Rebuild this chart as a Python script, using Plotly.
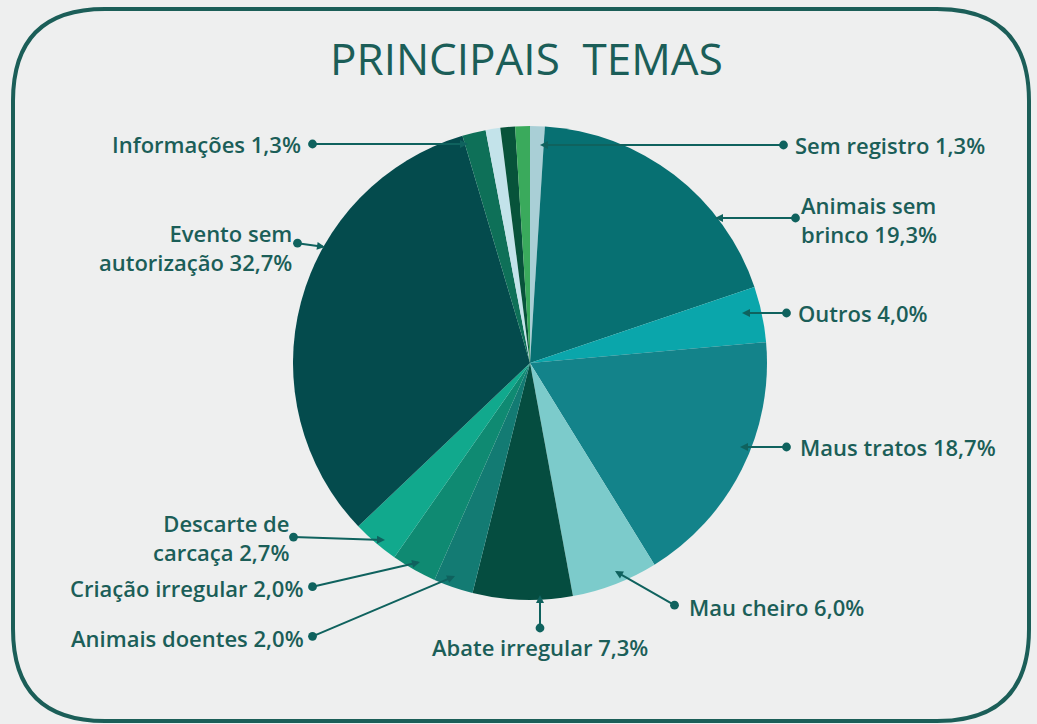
import plotly.graph_objects as go

# ---- data (slice sizes as drawn in the picture; labels as printed) ----
categories = ["Sem registro", "Animais sem brinco", "Outros", "Maus tratos", "Mau cheiro",
              "Abate irregular", "Animais doentes", "Criação irregular", "Descarte de carcaça",
              "Evento sem autorização", "Informações", "Outro A", "Outro B", "Outro C"]
values = [1.0, 18.8, 3.8, 17.6, 5.9, 6.8, 2.7, 3.1, 3.2, 32.5, 1.6, 1.0, 1.0, 1.0]
colors = ["#a9cfd6", "#077072", "#0aa6ab", "#13838a", "#7ccbcb", "#054d40", "#137b73",
          "#0f8a72", "#11a98d", "#044b4d", "#0e7058", "#c3e3ea", "#07533a", "#3aaa5c"]
label_texts = ["Sem registro 1,3%", "Animais sem<br>brinco 19,3%", "Outros 4,0%",
               "Maus tratos 18,7%", "Mau cheiro 6,0%", "Abate irregular 7,3%",
               "Animais doentes 2,0%", "Criação irregular 2,0%", "Descarte de<br>carcaça 2,7%",
               "Evento sem<br>autorização 32,7%", "Informações 1,3%"]

W, H = 1037, 724
TEAL = "#1b5e58"
LINE = "#0f625e"
FONT = "Open Sans"

fig = go.Figure()
fig.add_trace(go.Pie(
    labels=categories, values=values, sort=False, direction="clockwise", rotation=0,
    marker=dict(colors=colors, line=dict(width=0)), textinfo="none", hoverinfo="label",
    domain=dict(x=[(530 - 237) / W, (530 + 237) / W], y=[(H - 363 - 237) / H, (H - 363 + 237) / H]),
    showlegend=False,
))
# invisible pixel-coordinate axes for layout of labels
fig.add_trace(go.Scatter(x=[0, W], y=[0, H], mode="markers", marker=dict(opacity=0),
                         hoverinfo="skip", showlegend=False))

# label layout: (tip_x, tip_y, dot_x, dot_y, text_x, text_y, xanchor)
layout_pos = [
    (540, 145, 785, 145, 793, 145, "left"),
    (715, 218, 797, 218, 799, 219, "left"),
    (742, 313, 788, 313, 796, 313, "left"),
    (740, 447, 788, 447, 798, 447, "left"),
    (615, 571, 676, 606, 687, 607, "left"),
    (540, 595, 540, 630, 540, 647, "center"),
    (455, 576, 311, 637, 306, 638, "right"),
    (420, 562, 311, 587, 305, 588, "right"),
    (385, 540, 292, 537, 291, 537, "right"),
    (325, 247, 296, 243, 294, 247, "right"),
    (468, 144, 311, 144, 303, 144, "right"),
]

annotations = []
for txt, (tx, ty, dx, dy, lx, ly, anc) in zip(label_texts, layout_pos):
    annotations.append(dict(
        x=tx, y=ty, ax=dx, ay=dy, xref="x", yref="y", axref="x", ayref="y",
        text=" ", font=dict(size=1), showarrow=True, arrowside="end+start",
        arrowhead=2, arrowsize=0.8, startarrowhead=6, startarrowsize=1.1,
        arrowwidth=2, arrowcolor=LINE,
    ))
    annotations.append(dict(
        x=lx, y=ly, xref="x", yref="y", text=txt, showarrow=False, xanchor=anc,
        yanchor="middle", align=anc if anc != "center" else "center",
        font=dict(family=FONT, size=22, color=TEAL, weight=600),
    ))

annotations.append(dict(
    x=526, y=58, xref="x", yref="y", text="PRINCIPAIS&nbsp; TEMAS", showarrow=False,
    xanchor="center", yanchor="middle", font=dict(family=FONT, size=44, color=TEAL, weight=500),
))

# rounded border
x0, y0, x1, y1, r = 13, 9, 1029, 721, 92
path = (f"M {x0+r},{y0} L {x1-r},{y0} Q {x1},{y0} {x1},{y0+r} L {x1},{y1-r} "
        f"Q {x1},{y1} {x1-r},{y1} L {x0+r},{y1} Q {x0},{y1} {x0},{y1-r} "
        f"L {x0},{y0+r} Q {x0},{y0} {x0+r},{y0} Z")

fig.update_layout(
    width=W, height=H, margin=dict(l=0, r=0, t=0, b=0),
    paper_bgcolor="#eeefef", plot_bgcolor="rgba(0,0,0,0)",
    xaxis=dict(range=[0, W], visible=False, fixedrange=True),
    yaxis=dict(range=[H, 0], visible=False, fixedrange=True),
    annotations=annotations,
    shapes=[dict(type="path", path=path, xref="x", yref="y",
                 line=dict(color=TEAL, width=4), layer="below")],
)

fig.write_html("out.html", config={"displayModeBar": False},
               post_script="document.body.style.margin='0px';")
